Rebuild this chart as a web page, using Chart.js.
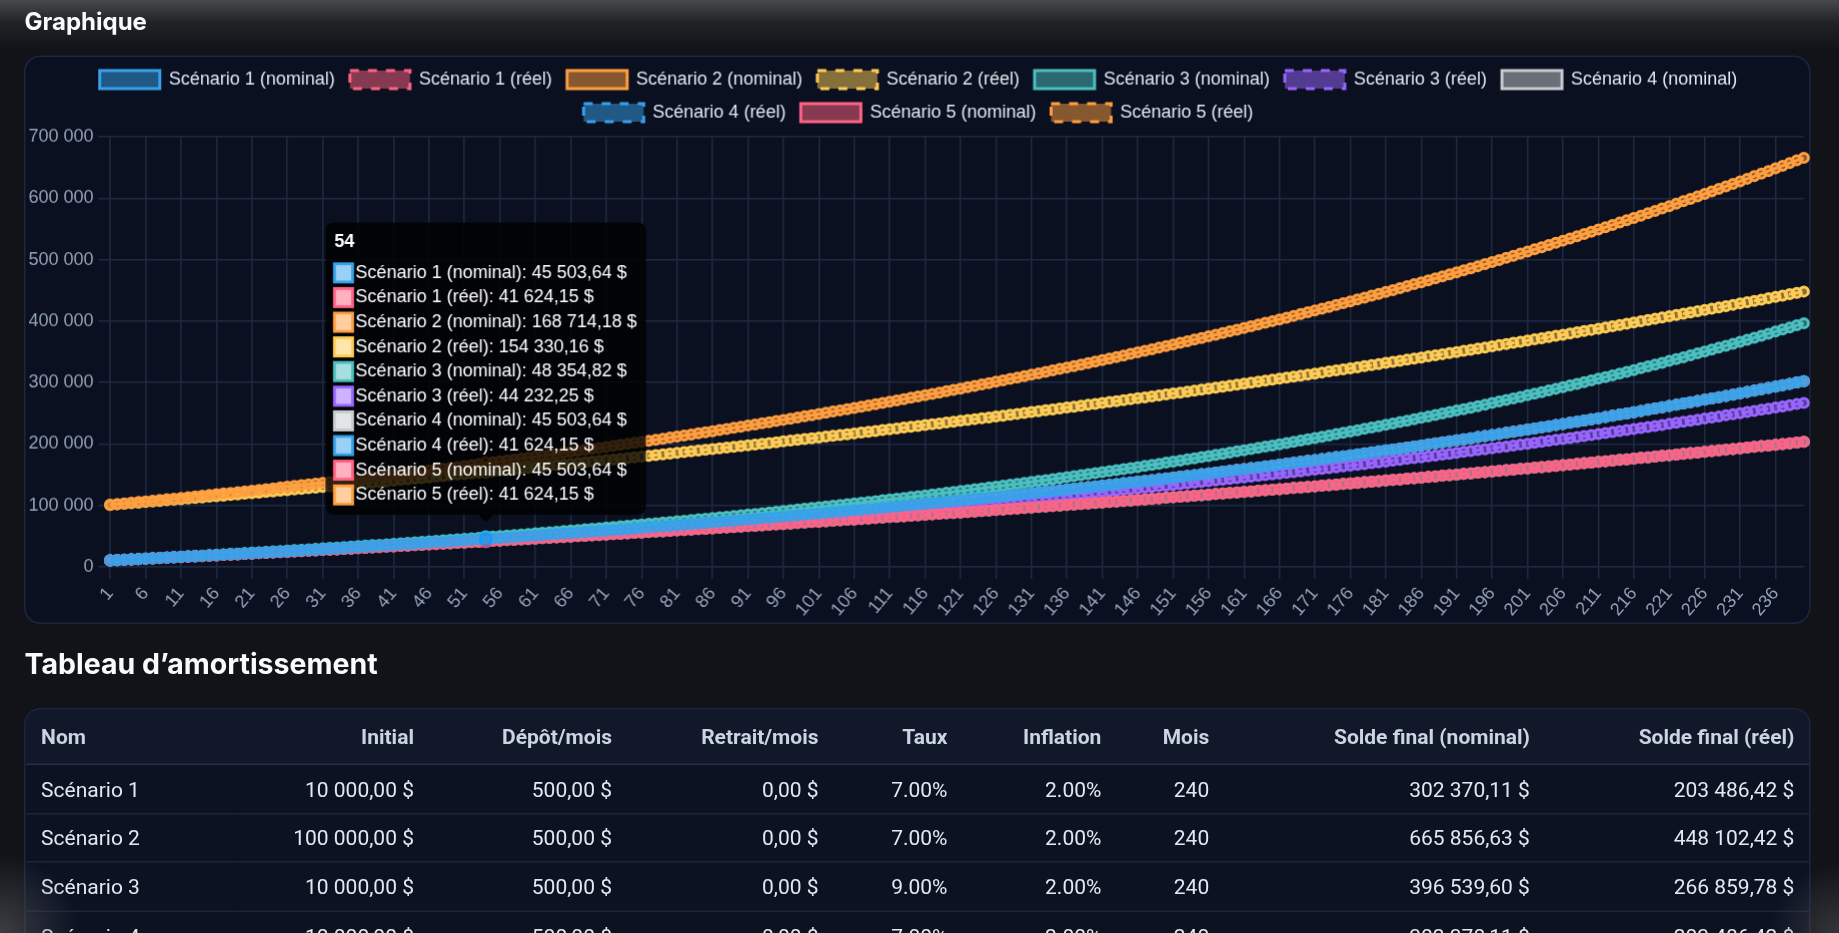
<!DOCTYPE html>
<html lang="fr">
<head>
<meta charset="utf-8">
<title>Graphique</title>
<script src="https://cdn.jsdelivr.net/npm/chart.js@4.4.1/dist/chart.umd.min.js"></script>
<style>
  html, body { margin: 0; padding: 0; width: 1839px; height: 933px; overflow: hidden; background: #111318; }
  body { position: relative; font-family: Inter, Roboto, sans-serif; }
  #topShade { position: absolute; left: 0; top: 0; width: 1839px; height: 50px;
    background: linear-gradient(to bottom, #48494c 0, #222327 22px, rgba(17,19,24,0) 50px); }
  #cornerShade { position: absolute; left: 0; top: 0; width: 1839px; height: 933px; pointer-events: none;
    background: radial-gradient(circle at 0 100%, rgba(90,90,94,.6), rgba(17,19,24,0) 80px),
                radial-gradient(circle at 100% 100%, rgba(90,90,94,.5), rgba(17,19,24,0) 70px); }
  #page { position: absolute; left: 0; top: 0; width: 1226px; height: 622px; transform: scale(1.5); transform-origin: 0 0; }
  .heading { position: absolute; left: 16.4px; margin: 0; color: #f8fafc; font-family: Inter, sans-serif; font-weight: 700; white-space: nowrap; }
  #chartTitle { top: 6.2px; font-size: 16px; line-height: 16px; }
  #tableTitle { top: 432.5px; font-size: 19px; line-height: 19px; }
  .card { position: absolute; left: 16.4px; width: 1188.9px; background: #0b1020; border: 1px solid #1c2640; border-radius: 11px; }
  #chartCard { top: 36.7px; height: 377.3px; }
  #tableCard { top: 472.2px; height: 230px; overflow: hidden; background: #0c1222; }
  #chartBox { position: absolute; }
  table { border-collapse: separate; border-spacing: 0; table-layout: fixed; width: 1188.9px;
    font-family: Roboto, sans-serif; font-size: 14px; color: #e2e8f0;
    background: linear-gradient(to bottom, #101829 0, #101829 36.8px, rgba(0,0,0,0) 36.8px); }
  thead tr { height: 36.8px; }
  tbody tr { height: 32.6px; }
  th { padding: 0 10px; font-weight: 700; color: #cbd5e1; border-bottom: 1px solid #22304a; text-align: right; }
  td { padding: 0 10px; text-align: right; border-bottom: 1px solid #1b2438; }
  th:first-child, td:first-child { text-align: left; }
</style>
</head>
<body>
<div id="topShade"></div>
<div id="page">
  <h3 class="heading" id="chartTitle">Graphique</h3>
  <div class="card" id="chartCard"></div>
  <div id="chartBox"><canvas id="chart"></canvas></div>
  <h2 class="heading" id="tableTitle">Tableau d’amortissement</h2>
  <div class="card" id="tableCard">
    <table>
      <colgroup>
        <col style="width:140px"><col style="width:128.6px"><col style="width:132px"><col style="width:137.7px">
        <col style="width:86px"><col style="width:102.6px"><col style="width:71.9px"><col style="width:213.8px"><col style="width:176.3px">
      </colgroup>
      <thead><tr id="headRow"></tr></thead>
      <tbody id="tableBody"></tbody>
    </table>
  </div>
</div>
<div id="cornerShade"></div>
<script>
// mois 1 .. 240
const months = Array.from({ length: 240 }, (_, i) => String(i + 1));

const s1Nominal = [
  10561, 11126, 11694, 12265, 12839, 13417, 13998, 14582, 15169, 15760, 16354, 16955,
  17557, 18162, 18771, 19384, 20000, 20619, 21242, 21868, 22498, 23132, 23768, 24413,
  25059, 25708, 26361, 27017, 27678, 28342, 29010, 29682, 30357, 31036, 31719, 32411,
  33103, 33799, 34499, 35203, 35911, 36623, 37339, 38060, 38784, 39512, 40245, 40986,
  41728, 42475, 43225, 43980, 44740, 45503.64, 46271, 47043, 47820, 48601, 49386, 50182,
  50977, 51778, 52582, 53392, 54206, 55025, 55849, 56677, 57509, 58347, 59189, 60042,
  60895, 61753, 62616, 63484, 64357, 65235, 66118, 67006, 67899, 68797, 69700, 70615,
  71529, 72450, 73375, 74306, 75242, 76184, 77130, 78083, 79040, 80003, 80971, 81952,
  82933, 83919, 84912, 85910, 86914, 87923, 88939, 89960, 90986, 92019, 93057, 94108,
  95160, 96218, 97282, 98353, 99429, 100512, 101600, 102695, 103796, 104903, 106016, 107144,
  108272, 109406, 110547, 111695, 112849, 114010, 115177, 116351, 117532, 118719, 119913, 121122,
  122331, 123548, 124771, 126002, 127240, 128484, 129736, 130995, 132261, 133534, 134814, 136110,
  137407, 138711, 140023, 141343, 142670, 144005, 145347, 146697, 148054, 149419, 150792, 152182,
  153573, 154971, 156378, 157793, 159216, 160647, 162087, 163534, 164990, 166453, 167925, 169416,
  170907, 172407, 173915, 175433, 176958, 178493, 180036, 181589, 183149, 184719, 186297, 187895,
  189494, 191102, 192720, 194347, 195983, 197629, 199284, 200948, 202622, 204305, 205997, 207711,
  209425, 211150, 212884, 214629, 216383, 218148, 219923, 221707, 223502, 225306, 227121, 228958,
  230797, 232646, 234506, 236377, 238258, 240150, 242053, 243967, 245891, 247826, 249772, 251742,
  253714, 255697, 257691, 259697, 261714, 263743, 265784, 267836, 269899, 271974, 274060, 276173,
  278287, 280413, 282552, 284703, 286866, 289042, 291230, 293430, 295643, 297867, 300105, 302370.11
];

const s1Real = [
  10544, 11089, 11636, 12184, 12734, 13285, 13837, 14391, 14946, 15503, 16062, 16623,
  17185, 17748, 18312, 18879, 19446, 20016, 20587, 21159, 21733, 22308, 22885, 23465,
  24046, 24628, 25212, 25797, 26385, 26973, 27564, 28156, 28749, 29344, 29941, 30541,
  31142, 31744, 32348, 32954, 33562, 34171, 34782, 35395, 36009, 36625, 37243, 37865,
  38487, 39111, 39736, 40364, 40993, 41624.15, 42257, 42892, 43528, 44167, 44807, 45451,
  46096, 46742, 47390, 48041, 48693, 49347, 50003, 50661, 51321, 51983, 52647, 53315,
  53984, 54654, 55327, 56001, 56678, 57357, 58037, 58720, 59405, 60092, 60781, 61474,
  62168, 62864, 63562, 64262, 64965, 65669, 66376, 67085, 67796, 68509, 69225, 69945,
  70665, 71388, 72113, 72841, 73571, 74303, 75037, 75774, 76513, 77254, 77997, 78746,
  79495, 80246, 81000, 81756, 82514, 83275, 84039, 84805, 85573, 86344, 87117, 87895,
  88674, 89455, 90239, 91026, 91815, 92607, 93401, 94198, 94997, 95799, 96604, 97414,
  98224, 99037, 99853, 100672, 101493, 102317, 103144, 103974, 104806, 105641, 106479, 107322,
  108166, 109013, 109862, 110715, 111570, 112429, 113290, 114154, 115021, 115891, 116763, 117642,
  118521, 119403, 120288, 121177, 122068, 122963, 123860, 124760, 125664, 126571, 127480, 128396,
  129312, 130232, 131155, 132081, 133011, 133943, 134879, 135818, 136760, 137705, 138654, 139609,
  140565, 141524, 142487, 143453, 144422, 145395, 146371, 147351, 148333, 149320, 150309, 151306,
  152303, 153304, 154309, 155317, 156329, 157344, 158363, 159385, 160411, 161440, 162473, 163514,
  164555, 165600, 166648, 167701, 168757, 169817, 170881, 171948, 173020, 174095, 175174, 176260,
  177347, 178439, 179534, 180633, 181736, 182844, 183955, 185070, 186189, 187312, 188439, 189574,
  190710, 191850, 192995, 194143, 195296, 196453, 197614, 198779, 199949, 201123, 202300, 203486.42
];

const s2Nominal = [
  101086, 102179, 103278, 104383, 105495, 106613, 107737, 108867, 110004, 111148, 112297, 113461,
  114626, 115798, 116976, 118161, 119353, 120552, 121758, 122970, 124189, 125415, 126648, 127896,
  129145, 130401, 131665, 132936, 134214, 135499, 136792, 138092, 139399, 140714, 142036, 143374,
  144713, 146060, 147415, 148778, 150149, 151527, 152913, 154307, 155709, 157118, 158536, 159971,
  161407, 162852, 164304, 165766, 167235, 168714.18, 170200, 171694, 173197, 174709, 176229, 177768,
  179308, 180857, 182415, 183981, 185557, 187142, 188736, 190339, 191950, 193571, 195201, 196851,
  198502, 200163, 201834, 203514, 205204, 206903, 208612, 210331, 212059, 213797, 215544, 217314,
  219085, 220866, 222657, 224458, 226270, 228093, 229925, 231768, 233621, 235485, 237359, 239256,
  241155, 243064, 244985, 246917, 248860, 250814, 252779, 254755, 256742, 258740, 260750, 262784,
  264820, 266868, 268927, 270999, 273082, 275177, 277284, 279403, 281534, 283677, 285832, 288013,
  290196, 292392, 294600, 296822, 299056, 301302, 303562, 305834, 308119, 310416, 312727, 315066,
  317407, 319762, 322130, 324511, 326907, 329316, 331739, 334175, 336625, 339089, 341566, 344075,
  346585, 349110, 351649, 354203, 356771, 359355, 361953, 364565, 367192, 369834, 372490, 375181,
  377872, 380579, 383302, 386041, 388795, 391565, 394351, 397152, 399969, 402802, 405650, 408535,
  411421, 414324, 417244, 420180, 423133, 426104, 429091, 432095, 435115, 438153, 441207, 444300,
  447395, 450508, 453639, 456787, 459954, 463139, 466342, 469563, 472802, 476059, 479335, 482651,
  485970, 489308, 492665, 496041, 499437, 502852, 506287, 509740, 513214, 516706, 520218, 523775,
  527333, 530912, 534512, 538132, 541774, 545436, 549119, 552822, 556546, 560292, 564057, 567871,
  571687, 575524, 579384, 583267, 587171, 591098, 595047, 599018, 603012, 607028, 611066, 615155,
  619246, 623361, 627501, 631663, 635850, 640061, 644295, 648554, 652836, 657142, 661472, 665856.63
];

const s2Real = [
  100920, 101842, 102768, 103696, 104628, 105563, 106500, 107441, 108385, 109331, 110281, 111237,
  112193, 113153, 114116, 115082, 116052, 117024, 118000, 118979, 119961, 120946, 121935, 122930,
  123925, 124925, 125927, 126933, 127942, 128955, 129971, 130990, 132013, 133039, 134068, 135105,
  136142, 137182, 138227, 139274, 140326, 141381, 142439, 143501, 144567, 145636, 146709, 147789,
  148869, 149954, 151042, 152134, 153230, 154330.16, 155433, 156540, 157651, 158766, 159884, 161010,
  162137, 163268, 164403, 165541, 166684, 167831, 168982, 170136, 171295, 172457, 173624, 174798,
  175974, 177154, 178337, 179526, 180718, 181914, 183115, 184320, 185529, 186742, 187959, 189185,
  190412, 191643, 192879, 194119, 195364, 196612, 197866, 199123, 200386, 201652, 202923, 204203,
  205484, 206769, 208060, 209355, 210654, 211959, 213268, 214581, 215899, 217222, 218549, 219886,
  221224, 222567, 223915, 225268, 226626, 227988, 229356, 230728, 232105, 233487, 234874, 236271,
  237670, 239073, 240482, 241895, 243314, 244738, 246168, 247602, 249041, 250486, 251936, 253396,
  254858, 256325, 257798, 259276, 260759, 262248, 263742, 265242, 266747, 268258, 269774, 271301,
  272829, 274364, 275904, 277449, 279001, 280558, 282121, 283689, 285264, 286844, 288430, 290027,
  291626, 293231, 294842, 296459, 298082, 299711, 301346, 302987, 304634, 306288, 307947, 309618,
  311292, 312971, 314657, 316349, 318048, 319752, 321464, 323181, 324905, 326636, 328372, 330122,
  331873, 333631, 335396, 337167, 338945, 340730, 342521, 344319, 346124, 347936, 349754, 351585,
  353419, 355260, 357107, 358962, 360824, 362692, 364568, 366451, 368341, 370238, 372142, 374060,
  375981, 377908, 379843, 381786, 383736, 385693, 387658, 389630, 391610, 393597, 395591, 397600,
  399612, 401631, 403658, 405693, 407736, 409786, 411845, 413911, 415985, 418066, 420156, 422261,
  424369, 426485, 428609, 430741, 432881, 435030, 437187, 439352, 441525, 443707, 445897, 448102.42
];

const s3Nominal = [
  10579, 11162, 11749, 12341, 12937, 13538, 14142, 14752, 15365, 15983, 16605, 17239,
  17872, 18510, 19152, 19799, 20451, 21108, 21770, 22436, 23107, 23783, 24463, 25157,
  25849, 26547, 27249, 27957, 28671, 29389, 30113, 30841, 31575, 32314, 33059, 33817,
  34575, 35338, 36106, 36881, 37661, 38447, 39238, 40035, 40838, 41647, 42461, 43290,
  44119, 44953, 45794, 46641, 47494, 48354.82, 49220, 50091, 50970, 51854, 52744, 53652,
  54558, 55471, 56391, 57317, 58250, 59190, 60137, 61091, 62052, 63019, 63993, 64985,
  65976, 66975, 67981, 68994, 70015, 71044, 72079, 73123, 74173, 75231, 76297, 77382,
  78466, 79558, 80659, 81767, 82884, 84009, 85142, 86283, 87432, 88589, 89755, 90942,
  92128, 93322, 94526, 95738, 96960, 98190, 99429, 100677, 101934, 103200, 104475, 105773,
  107071, 108377, 109694, 111020, 112356, 113702, 115057, 116422, 117797, 119182, 120576, 121996,
  123415, 124845, 126285, 127735, 129196, 130668, 132151, 133644, 135148, 136662, 138188, 139741,
  141293, 142856, 144432, 146018, 147617, 149227, 150848, 152482, 154127, 155783, 157451, 159151,
  160848, 162558, 164281, 166016, 167765, 169526, 171300, 173086, 174885, 176697, 178522, 180381,
  182237, 184108, 185992, 187891, 189803, 191729, 193669, 195624, 197592, 199573, 201569, 203602,
  205633, 207679, 209740, 211817, 213909, 216015, 218138, 220275, 222428, 224595, 226779, 229002,
  231224, 233462, 235716, 237987, 240275, 242580, 244901, 247239, 249594, 251965, 254353, 256785,
  259215, 261663, 264129, 266613, 269115, 271636, 274175, 276732, 279308, 281901, 284513, 287174,
  289832, 292509, 295206, 297924, 300661, 303418, 306195, 308992, 311809, 314646, 317503, 320414,
  323320, 326249, 329199, 332172, 335166, 338182, 341219, 344279, 347360, 350463, 353588, 356771,
  359951, 363154, 366381, 369632, 372907, 376206, 379529, 382875, 386245, 389640, 393058, 396539.60
];

const s3Real = [
  10561, 11125, 11691, 12260, 12831, 13405, 13981, 14559, 15140, 15723, 16309, 16901,
  17492, 18087, 18684, 19284, 19886, 20491, 21098, 21709, 22322, 22937, 23555, 24180,
  24804, 25432, 26062, 26695, 27331, 27970, 28612, 29256, 29904, 30554, 31207, 31867,
  32527, 33190, 33856, 34525, 35197, 35873, 36551, 37232, 37917, 38605, 39295, 39993,
  40692, 41393, 42098, 42806, 43517, 44232.25, 44950, 45671, 46396, 47124, 47855, 48594,
  49333, 50076, 50822, 51572, 52326, 53083, 53844, 54608, 55376, 56147, 56922, 57705,
  58489, 59276, 60067, 60862, 61661, 62464, 63270, 64081, 64895, 65713, 66535, 67366,
  68197, 69032, 69872, 70715, 71563, 72415, 73271, 74131, 74995, 75863, 76736, 77618,
  78500, 79387, 80279, 81174, 82075, 82979, 83888, 84802, 85720, 86642, 87569, 88507,
  89444, 90386, 91334, 92286, 93242, 94204, 95170, 96141, 97117, 98097, 99083, 100080,
  101076, 102078, 103086, 104098, 105115, 106138, 107166, 108199, 109237, 110280, 111328, 112389,
  113449, 114516, 115587, 116665, 117747, 118836, 119930, 121029, 122134, 123244, 124360, 125489,
  126618, 127754, 128895, 130042, 131195, 132354, 133519, 134689, 135866, 137049, 138237, 139440,
  140643, 141852, 143068, 144290, 145519, 146753, 147995, 149242, 150496, 151757, 153023, 154305,
  155587, 156876, 158172, 159475, 160784, 162101, 163424, 164754, 166091, 167435, 168785, 170152,
  171519, 172894, 174276, 175665, 177062, 178466, 179877, 181296, 182722, 184155, 185596, 187054,
  188512, 189979, 191453, 192935, 194426, 195924, 197430, 198944, 200465, 201995, 203533, 205089,
  206645, 208211, 209784, 211366, 212957, 214556, 216164, 217780, 219404, 221037, 222679, 224341,
  226003, 227674, 229354, 231043, 232742, 234449, 236166, 237892, 239627, 241371, 243124, 244899,
  246674, 248459, 250253, 252058, 253872, 255696, 257530, 259374, 261227, 263091, 264964, 266859.78
];

// scénarios 4 et 5 : mêmes paramètres que le scénario 1
const s4Nominal = s1Nominal;
const s4Real = s1Real;
const s5Nominal = s1Nominal;
const s5Real = s1Real;

const seriesLabels = [
  'Scénario 1 (nominal)', 'Scénario 1 (réel)', 'Scénario 2 (nominal)', 'Scénario 2 (réel)',
  'Scénario 3 (nominal)', 'Scénario 3 (réel)', 'Scénario 4 (nominal)', 'Scénario 4 (réel)',
  'Scénario 5 (nominal)', 'Scénario 5 (réel)'
];
const seriesData = [s1Nominal, s1Real, s2Nominal, s2Real, s3Nominal, s3Real, s4Nominal, s4Real, s5Nominal, s5Real];
const seriesColors = [
  '54, 162, 235', '255, 99, 132', '255, 159, 64', '255, 205, 86', '75, 192, 192',
  '153, 102, 255', '201, 203, 207', '54, 162, 235', '255, 99, 132', '255, 159, 64'
];

const yTicks = [0, 100000, 200000, 300000, 400000, 500000, 600000, 700000];

// tableau
const tableHeaders = ['Nom', 'Initial', 'Dépôt/mois', 'Retrait/mois', 'Taux', 'Inflation', 'Mois', 'Solde final (nominal)', 'Solde final (réel)'];
const tableNames = ['Scénario 1', 'Scénario 2', 'Scénario 3', 'Scénario 4', 'Scénario 5'];
const tableInitial = [10000, 100000, 10000, 10000, 10000];
const tableDeposit = [500, 500, 500, 500, 500];
const tableWithdrawal = [0, 0, 0, 0, 0];
const tableRate = [7, 7, 9, 7, 7];
const tableInflation = [2, 2, 2, 2, 2];
const tableMonths = [240, 240, 240, 240, 240];
const tableFinalNominal = [302370.11, 665856.63, 396539.60, 302370.11, 302370.11];
const tableFinalReal = [203486.42, 448102.42, 266859.78, 203486.42, 203486.42];

function group(intStr) {
  return intStr.replace(/\B(?=(\d{3})+(?!\d))/g, '\u00a0');
}
function money(v) {
  const [i, d] = Math.abs(v).toFixed(2).split('.');
  return (v < 0 ? '-' : '') + group(i) + ',' + d + '\u00a0$';
}

// ---- tableau
document.getElementById('headRow').innerHTML = tableHeaders.map(h => `<th>${h}</th>`).join('');
document.getElementById('tableBody').innerHTML = tableNames.map((n, i) => `<tr>
  <td>${n}</td><td>${money(tableInitial[i])}</td><td>${money(tableDeposit[i])}</td>
  <td>${money(tableWithdrawal[i])}</td><td>${tableRate[i].toFixed(2)}%</td>
  <td>${tableInflation[i].toFixed(2)}%</td><td>${tableMonths[i]}</td>
  <td>${money(tableFinalNominal[i])}</td><td>${money(tableFinalReal[i])}</td></tr>`).join('');

// ---- graphique
Chart.defaults.font.family = "'Liberation Sans', Arial, Helvetica, sans-serif";
const gridColor = '#1f2a42';

const box = document.getElementById('chartBox');
box.style.left = '18.9px';
box.style.top = '37px';

const chart = new Chart(document.getElementById('chart'), {
  type: 'line',
  data: {
    labels: months,
    datasets: seriesLabels.map((label, i) => ({
      label,
      data: seriesData[i],
      borderColor: `rgb(${seriesColors[i]})`,
      backgroundColor: `rgba(${seriesColors[i]}, 0.5)`,
      borderWidth: 2,
      borderDash: label.includes('réel') ? [6, 6] : []
    }))
  },
  options: {
    responsive: false,
    maintainAspectRatio: false,
    devicePixelRatio: 1.5,
    animation: false,
    interaction: { mode: 'index', intersect: false },
    plugins: {
      legend: { labels: { color: '#e2e8f0' } },
      tooltip: {
        callbacks: {
          label: c => `${c.dataset.label}: ${money(c.parsed.y)}`
        }
      }
    },
    scales: {
      x: {
        ticks: { color: '#94a3b8' },
        grid: { color: gridColor },
        border: { color: gridColor }
      },
      y: {
        min: yTicks[0],
        max: yTicks[yTicks.length - 1],
        ticks: {
          color: '#94a3b8',
          stepSize: yTicks[1] - yTicks[0],
          callback: v => group(String(v))
        },
        grid: { color: gridColor },
        border: { color: gridColor }
      }
    }
  }
});

// place the plot area where the reference has it (page units, before the 1.5 scale)
const target = { left: 110 / 1.5, right: 1802.7 / 1.5, top: 136.5 / 1.5, bottom: 565.6 / 1.5 };
let W = 1186, H = 376;
chart.resize(W, H);
for (let pass = 0; pass < 4; pass++) {
  const a = chart.chartArea;
  const L = parseFloat(box.style.left), T = parseFloat(box.style.top);
  const nL = L + (target.left - (L + a.left));
  const nT = T + (target.top - (T + a.top));
  const nW = target.right - nL + (W - a.right);
  const nH = target.bottom - nT + (H - a.bottom);
  box.style.left = nL + 'px';
  box.style.top = nT + 'px';
  W = nW; H = nH;
  chart.resize(W, H);
}

// survol du mois 54
const hoverIndex = months.indexOf('54');
const active = seriesData.map((_, i) => ({ datasetIndex: i, index: hoverIndex }));
chart.setActiveElements(active);
chart.tooltip.setActiveElements(active, {
  x: chart.scales.x.getPixelForValue(hoverIndex),
  y: chart.scales.y.getPixelForValue(s1Nominal[hoverIndex])
});
chart.update();
</script>
</body>
</html>
